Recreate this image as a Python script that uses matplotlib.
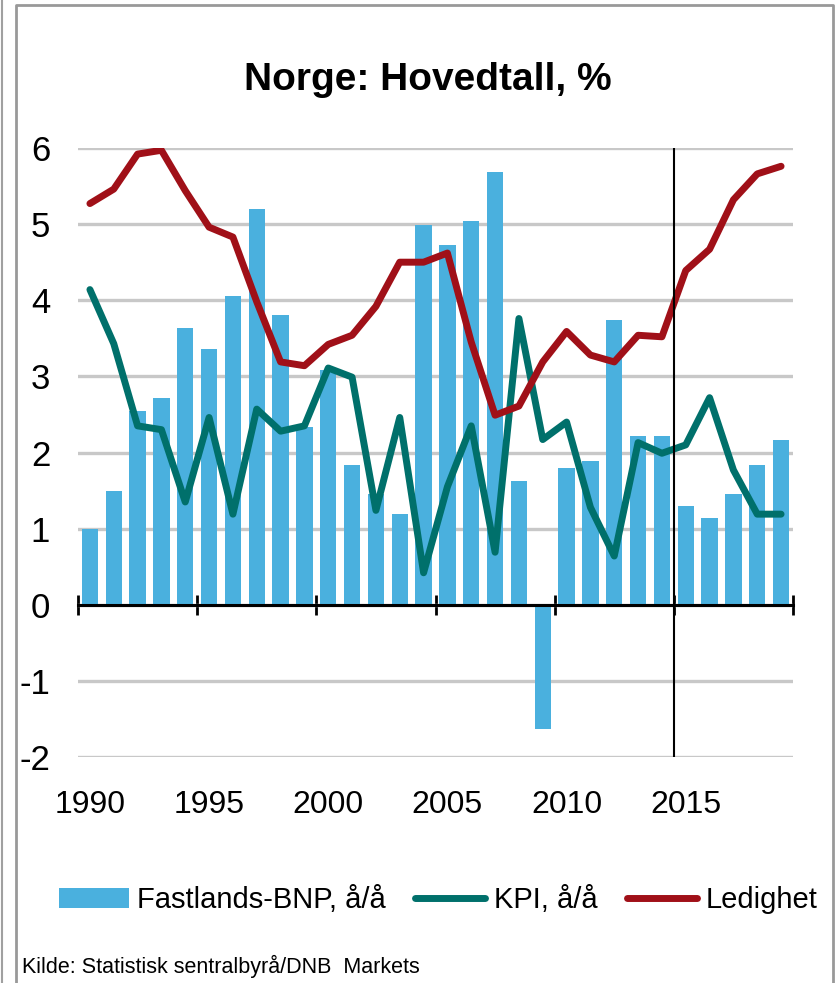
import matplotlib
matplotlib.use("Agg")
import matplotlib.pyplot as plt
from matplotlib.lines import Line2D
import numpy as np

plt.rcParams['font.family'] = ['Liberation Sans', 'DejaVu Sans']

# data
years = list(range(1990, 2020))
bnp = [1.0, 1.5, 2.55, 2.71, 3.63, 3.36, 4.06, 5.2, 3.8, 2.33,
       3.09, 1.84, 1.46, 1.19, 4.99, 4.72, 5.04, 5.69, 1.62, -1.63,
       1.79, 1.89, 3.74, 2.22, 2.22, 1.30, 1.14, 1.46, 1.84, 2.17]
kpi = [4.14, 3.43, 2.35, 2.30, 1.35, 2.46, 1.19, 2.57, 2.28, 2.35,
       3.11, 2.99, 1.24, 2.46, 0.42, 1.55, 2.35, 0.69, 3.76, 2.17,
       2.40, 1.28, 0.64, 2.13, 1.99, 2.10, 2.72, 1.77, 1.19, 1.19]
ledighet = [5.27, 5.46, 5.92, 5.97, 5.44, 4.96, 4.83, 3.98, 3.19, 3.14,
            3.42, 3.54, 3.92, 4.50, 4.50, 4.62, 3.45, 2.49, 2.61, 3.19,
            3.59, 3.28, 3.19, 3.54, 3.52, 4.39, 4.67, 5.32, 5.66, 5.76]
label_years = [1990, 1995, 2000, 2005, 2010, 2015]
yticks = [-2, -1, 0, 1, 2, 3, 4, 5, 6]

c_bar = '#4AB0DE'
c_kpi = '#00706B'
c_led = '#A01018'

fig = plt.figure(figsize=(8.4, 9.83), dpi=100)
ax = fig.add_axes([78 / 840, 1 - 757 / 983, 715 / 840, 609 / 983])

b = ax.bar(years, bnp, width=0.68, color=c_bar, zorder=2, label='Fastlands-BNP, å/å')
l1, = ax.plot(years, kpi, color=c_kpi, lw=5, zorder=3, solid_capstyle='round', label='KPI, å/å')
l2, = ax.plot(years, ledighet, color=c_led, lw=5, zorder=4, solid_capstyle='round', label='Ledighet')

ax.axvline(2014.5, color='black', lw=1.5, zorder=5)

ax.set_xlim(years[0] - 0.5, years[-1] + 0.5)
ax.set_ylim(-2, 6)
ax.set_yticks(yticks)
ax.set_yticklabels([str(v) for v in yticks])
ax.yaxis.grid(True, color='#C8C8C8', lw=2.4, zorder=0)
ax.set_axisbelow(True)
ax.tick_params(axis='y', length=0, pad=20, labelsize=25)

for s in ['top', 'right', 'left']:
    ax.spines[s].set_visible(False)
ax.spines['bottom'].set_position(('data', 0))
ax.spines['bottom'].set_linewidth(2.2)
ax.spines['bottom'].set_zorder(6)
ax.set_xticks(np.arange(years[0] - 0.5, years[-1] + 1, 5))
ax.tick_params(axis='x', direction='inout', length=15, width=2, labelbottom=False)

sec = ax.secondary_xaxis(0.0)
sec.set_xticks(label_years)
sec.set_xticklabels([str(y) for y in label_years])
sec.tick_params(length=0, pad=24, labelsize=23)
sec.spines['bottom'].set_visible(False)

fig.text(428 / 840, 1 - 80 / 983, 'Norge: Hovedtall, %', ha='center', va='center',
         fontsize=28, fontweight='bold')
fig.text(22 / 840, 1 - 966 / 983, 'Kilde: Statistisk sentralbyrå/DNB  Markets',
         ha='left', va='center', fontsize=15.5)

fig.legend([b, l1, l2], [b.get_label(), l1.get_label(), l2.get_label()],
           loc='center', bbox_to_anchor=(438 / 840, 1 - 900 / 983),
           ncol=3, frameon=False, fontsize=21, handlelength=2.4, handletextpad=0.3,
           columnspacing=1.0, borderpad=0)

# outer frame lines
fig.add_artist(Line2D([2 / 840, 2 / 840], [0, 1], color='#A0A0A0', lw=1.5))
fig.add_artist(Line2D([16 / 840, 16 / 840, 833 / 840, 833 / 840],
                      [0, 1 - 5 / 983, 1 - 5 / 983, 0], color='#999999', lw=2))

fig.savefig('out.png', dpi=100)
